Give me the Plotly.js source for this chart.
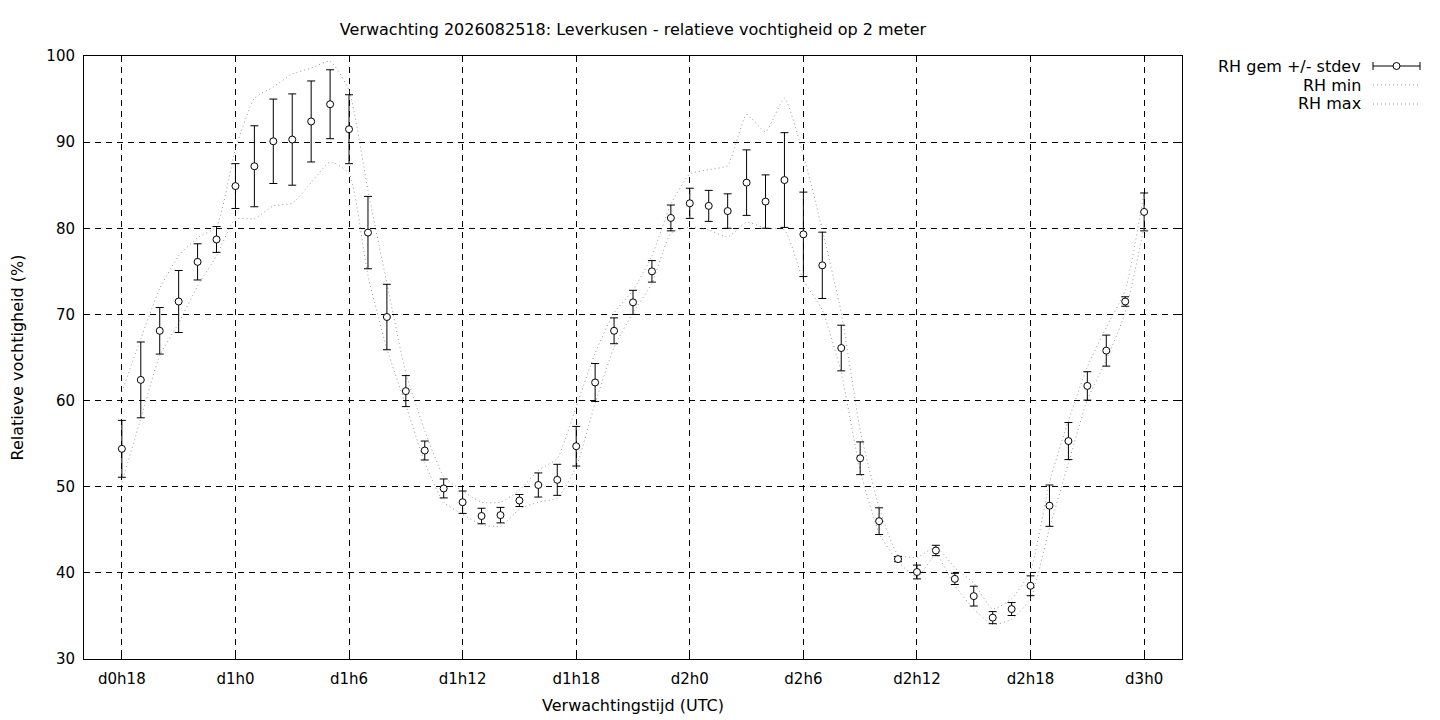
<!DOCTYPE html>
<html>
<head>
<meta charset="utf-8">
<script src="https://cdn.plot.ly/plotly-3.0.1.min.js"></script>
<style>
  body { margin: 0; background: #fff; }
  #chart { width: 1440px; height: 720px; }
</style>
</head>
<body>
<div id="chart"></div>
<script>
// forecast hours since d0h0
var hours = [18, 19, 20, 21, 22, 23, 24, 25, 26, 27, 28, 29, 30, 31, 32, 33, 34, 35, 36,
  37, 38, 39, 40, 41, 42, 43, 44, 45, 46, 47, 48, 49, 50, 51, 52, 53, 54, 55, 56, 57,
  58, 59, 60, 61, 62, 63, 64, 65, 66, 67, 68, 69, 70, 71, 72];

var rhMean = [54.4, 62.4, 68.1, 71.5, 76.1, 78.7, 84.9, 87.2, 90.1, 90.3, 92.4, 94.4, 91.5,
  79.5, 69.7, 61.1, 54.2, 49.8, 48.2, 46.6, 46.7, 48.4, 50.2, 50.8, 54.7, 62.1, 68.1,
  71.4, 75.0, 81.2, 82.9, 82.6, 82.0, 85.3, 83.1, 85.6, 79.3, 75.7, 66.1, 53.3, 46.0,
  41.6, 40.1, 42.6, 39.3, 37.3, 34.8, 35.8, 38.5, 47.8, 55.3, 61.7, 65.8, 71.5, 81.9];

var rhStdev = [3.3, 4.4, 2.7, 3.6, 2.1, 1.5, 2.6, 4.7, 4.9, 5.3, 4.7, 4.0, 4.0, 4.2, 3.8,
  1.8, 1.1, 1.1, 1.3, 0.9, 0.9, 0.7, 1.4, 1.8, 2.3, 2.2, 1.5, 1.4, 1.25, 1.5, 1.75, 1.8,
  2.0, 3.8, 3.1, 5.5, 4.9, 3.85, 2.65, 1.9, 1.55, 0.3, 0.8, 0.6, 0.65, 1.15, 0.7, 0.75,
  1.15, 2.4, 2.15, 1.65, 1.8, 0.55, 2.2];

var rhMin = [50.5, 57.9, 65.2, 69.0, 73.3, 76.8, 81.1, 81.1, 82.6, 82.9, 85.3, 87.7, 86.4,
  74.5, 66.0, 59.5, 52.8, 48.2, 46.8, 45.6, 45.4, 47.4, 48.2, 48.7, 52.3, 59.7, 66.2,
  70.2, 73.6, 79.4, 80.1, 79.8, 79.0, 80.7, 80.0, 79.8, 74.0, 70.5, 63.2, 51.9, 44.6,
  41.3, 39.5, 42.1, 38.5, 35.8, 34.0, 34.6, 37.0, 45.2, 52.7, 60.1, 64.7, 70.2, 80.2];

var rhMax = [61.0, 67.2, 73.0, 76.8, 78.9, 80.2, 89.2, 95.1, 96.4, 97.9, 98.6, 99.4, 96.0,
  84.4, 73.6, 63.2, 56.5, 51.2, 49.5, 48.2, 48.2, 49.6, 51.9, 53.3, 59.3, 65.5, 70.2,
  72.8, 76.8, 82.8, 86.3, 86.8, 87.3, 93.2, 91.2, 95.1, 88.5, 79.8, 70.2, 56.6, 47.6,
  42.1, 41.8, 43.0, 40.6, 38.8, 35.8, 37.0, 40.2, 50.5, 57.7, 63.9, 68.5, 72.8, 84.2];

var tickVals = [18, 24, 30, 36, 42, 48, 54, 60, 66, 72];
var tickLabels = ['d0h18', 'd1h0', 'd1h6', 'd1h12', 'd1h18', 'd2h0', 'd2h6', 'd2h12', 'd2h18', 'd3h0'];

var legendNames = ['RH gem +/- stdev', 'RH min', 'RH max'];

var FONT = 'DejaVu Sans, sans-serif';
var W = 1440, H = 720;
var M = { l: 84, r: 258, t: 56, b: 61 };
var PW = W - M.l - M.r, PH = H - M.t - M.b;
var DOTS = { color: '#9a9a9a', width: 1, dash: '1px,3px' };

// pixel -> paper coords, for the hand drawn key
function px(x) { return (x - M.l) / PW; }
function py(y) { return (H - M.b - y) / PH; }

var traces = [
  { x: hours, y: rhMin, type: 'scatter', mode: 'lines', name: legendNames[1],
    line: Object.assign({ shape: 'spline', smoothing: 0.5 }, DOTS) },
  { x: hours, y: rhMax, type: 'scatter', mode: 'lines', name: legendNames[2],
    line: Object.assign({ shape: 'spline', smoothing: 0.5 }, DOTS) },
  { x: hours, y: rhMean, type: 'scatter', mode: 'markers', name: legendNames[0],
    error_y: { type: 'data', array: rhStdev, visible: true, color: '#000', thickness: 1, width: 4 },
    marker: { symbol: 'circle', size: 7, color: '#fff', line: { color: '#000', width: 1 } } }
];

// key on the right, gnuplot style: text first, sample after
var keyY = [66, 85, 104];
var annotations = legendNames.map(function (t, i) {
  return { text: t, xref: 'paper', yref: 'paper', x: px(1363), y: py(keyY[i]),
    xanchor: 'right', yanchor: 'middle', showarrow: false, font: { family: FONT, size: 16, color: '#000' } };
});
var shapes = [
  { type: 'line', xref: 'paper', yref: 'paper', x0: px(1373), x1: px(1420), y0: py(66), y1: py(66), line: { color: '#000', width: 1 } },
  { type: 'line', xref: 'paper', yref: 'paper', x0: px(1373), x1: px(1373), y0: py(62), y1: py(70), line: { color: '#000', width: 1 } },
  { type: 'line', xref: 'paper', yref: 'paper', x0: px(1420), x1: px(1420), y0: py(62), y1: py(70), line: { color: '#000', width: 1 } },
  { type: 'circle', xref: 'paper', yref: 'paper', x0: px(1393), x1: px(1400), y0: py(62.5), y1: py(69.5), fillcolor: '#fff', line: { color: '#000', width: 1 } },
  { type: 'line', xref: 'paper', yref: 'paper', x0: px(1373), x1: px(1420), y0: py(85), y1: py(85), line: DOTS },
  { type: 'line', xref: 'paper', yref: 'paper', x0: px(1373), x1: px(1420), y0: py(104), y1: py(104), line: DOTS }
];

var axisBase = {
  showline: true, linecolor: '#000', linewidth: 1, mirror: 'ticks',
  ticks: 'inside', ticklen: 6, tickcolor: '#000', tickwidth: 1,
  showgrid: true, gridcolor: '#000', gridwidth: 1, griddash: '6px,5px',
  zeroline: false, fixedrange: true,
  tickfont: { family: FONT, size: 15, color: '#000' }
};

var layout = {
  width: W, height: H, margin: M,
  paper_bgcolor: '#fff', plot_bgcolor: '#fff',
  font: { family: FONT, size: 16, color: '#000' },
  showlegend: false,
  title: { text: 'Verwachting 2026082518: Leverkusen - relatieve vochtigheid op 2 meter',
    x: 0.5, xref: 'paper', y: 1 - 29 / H, yref: 'container', yanchor: 'middle',
    font: { family: FONT, size: 16, color: '#000' } },
  xaxis: Object.assign({}, axisBase, {
    range: [16, 74], tickvals: tickVals, ticktext: tickLabels, ticklabelstandoff: 6,
    title: { text: 'Verwachtingstijd (UTC)', standoff: 12, font: { family: FONT, size: 16 } }
  }),
  yaxis: Object.assign({}, axisBase, {
    range: [30, 100], dtick: 10, tick0: 30, ticklabelstandoff: 5,
    title: { text: 'Relatieve vochtigheid (%)', standoff: 18, font: { family: FONT, size: 16 } }
  }),
  annotations: annotations,
  shapes: shapes
};

Plotly.newPlot('chart', traces, layout, { displayModeBar: false, staticPlot: true });
</script>
</body>
</html>
